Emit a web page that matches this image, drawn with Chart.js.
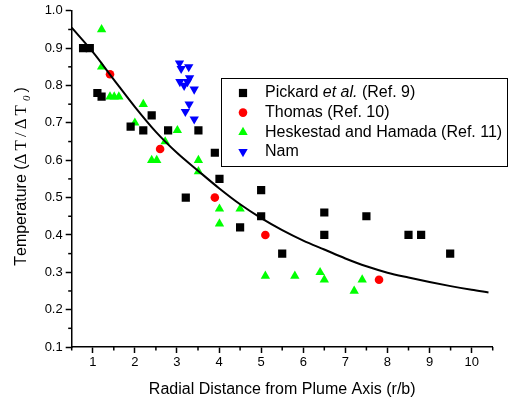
<!DOCTYPE html>
<html><head><meta charset="utf-8">
<script src="https://cdn.jsdelivr.net/npm/chart.js@4/dist/chart.umd.min.js"></script>
<style>html,body{margin:0;padding:0;background:#fff;}#wrap{width:521px;height:402px;position:relative}</style>
</head><body><div id="wrap"><canvas id="c" width="521" height="402"></canvas></div>
<script>
// ---- data ----
const pickardX = [0.77,0.93,1.11,1.21,1.90,2.20,2.40,2.79,3.51,3.90,4.01,3.21,4.50,5.00,5.00,5.50,6.50,6.50,7.50,8.50,8.80,9.49];
const pickardY = [0.90,0.90,0.78,0.77,0.69,0.68,0.72,0.68,0.68,0.62,0.55,0.50,0.42,0.52,0.45,0.35,0.46,0.40,0.45,0.40,0.40,0.35];
const thomasX = [1.41,2.60,3.90,5.10,7.80];
const thomasY = [0.83,0.63,0.50,0.40,0.28];
const heskX = [1.21,1.21,1.41,1.51,1.62,2.20,2.00,3.01,2.72,2.40,2.52,3.51,3.51,4.01,4.50,4.01,5.10,5.80,6.40,6.50,7.21,7.40];
const heskY = [0.95,0.85,0.77,0.77,0.77,0.75,0.70,0.68,0.65,0.60,0.60,0.60,0.57,0.47,0.47,0.43,0.29,0.29,0.30,0.28,0.25,0.28];
const namX = [3.06,3.10,3.28,3.30,3.07,3.17,3.25,3.41,3.29,3.20,3.41];
const namY = [0.86,0.845,0.85,0.82,0.81,0.80,0.81,0.79,0.75,0.73,0.71];
const curveX = [0.5,1.0,1.5,2.0,2.5,3.0,3.5,4.0,4.5,5.0,5.5,6.0,6.5,7.0,7.5,8.0,8.5,9.0,9.5,10.0,10.4];
const curveY = [0.955,0.890,0.816,0.743,0.676,0.620,0.572,0.525,0.482,0.445,0.413,0.385,0.361,0.337,0.316,0.299,0.286,0.274,0.263,0.253,0.246];
const seriesLabels = ['Pickard et al. (Ref. 9)','Thomas (Ref. 10)','Heskestad and Hamada (Ref. 11)','Nam'];
const xMajorTicks = [1,2,3,4,5,6,7,8,9,10];
const yMajorTicks = [0.1,0.2,0.3,0.4,0.5,0.6,0.7,0.8,0.9,1.0];
const xTitle = 'Radial Distance from Plume Axis (r/b)';
const yTitleParts = ['Temperature (', '\u0394T/\u0394T', '0', ')'];

const pts = (xs, ys) => xs.map((x, i) => ({x, y: ys[i]}));
const isMaj = (arr, v) => arr.some(t => Math.abs(t - v) < 1e-6);

const SANS = '"Liberation Sans", Arial, sans-serif';
const SERIF = '"Liberation Serif", "Times New Roman", serif';

const markers = [
  {pointStyle:'rect', radius:5.8, rotation:0, color:'#000000'},
  {pointStyle:'circle', radius:4.3, rotation:0, color:'#ff0000'},
  {pointStyle:'triangle', radius:5.4, rotation:0, color:'#00ff00'},
  {pointStyle:'triangle', radius:5.4, rotation:180, color:'#0000ff'}
];

function drawMarker(ctx, m, x, y) {
  ctx.save();
  ctx.fillStyle = m.color; ctx.strokeStyle = m.color;
  if (Chart.helpers && Chart.helpers.drawPoint) {
    Chart.helpers.drawPoint(ctx, {pointStyle:m.pointStyle, radius:m.radius, rotation:m.rotation, borderWidth:0}, x, y);
  }
  ctx.restore();
}

const extras = {
  id: 'extras',
  afterDraw(chart) {
    const ctx = chart.ctx;
    const xs = chart.scales.x, ys = chart.scales.y;
    ctx.save();
    ctx.strokeStyle = '#000'; ctx.lineWidth = 1.5;
    // minor ticks
    xs.ticks.forEach(t => {
      if (!isMaj(xMajorTicks, t.value)) {
        const px = xs.getPixelForValue(t.value);
        ctx.beginPath(); ctx.moveTo(px, xs.top); ctx.lineTo(px, xs.top + 3.5); ctx.stroke();
      }
    });
    ys.ticks.forEach(t => {
      if (!isMaj(yMajorTicks, t.value)) {
        const py = ys.getPixelForValue(t.value);
        ctx.beginPath(); ctx.moveTo(ys.right, py); ctx.lineTo(ys.right - 3.5, py); ctx.stroke();
      }
    });
    // y title with mixed fonts
    ctx.translate(22, 176.5);
    ctx.rotate(-Math.PI / 2);
    const segs = [
      {t: yTitleParts[0], f: '16px ' + SANS, dy: 0, sp: 0},
      {t: yTitleParts[1], f: '17px ' + SERIF, dy: 0, sp: 3},
      {t: yTitleParts[2], f: 'italic 11px ' + SERIF, dy: 5, sp: 0, pre: 1, post: 3},
      {t: yTitleParts[3], f: '16px ' + SANS, dy: 0, sp: 0}
    ];
    let total = 0;
    segs.forEach(s => {
      ctx.font = s.f;
      s.w = 0;
      for (const ch of s.t) s.w += ctx.measureText(ch).width + s.sp;
      s.w += (s.pre || 0) + (s.post || 0);
      total += s.w;
    });
    let cx = -total / 2;
    ctx.fillStyle = '#000'; ctx.textBaseline = 'middle'; ctx.textAlign = 'left';
    segs.forEach(s => {
      ctx.font = s.f;
      let x = cx + (s.pre || 0);
      for (const ch of s.t) { ctx.fillText(ch, x, s.dy); x += ctx.measureText(ch).width + s.sp; }
      cx += s.w;
    });
    ctx.restore();

    // legend
    ctx.save();
    const bx = 221.5, by = 78.5, bw = 286, bh = 88;
    ctx.fillStyle = '#fff'; ctx.fillRect(bx, by, bw, bh);
    ctx.strokeStyle = '#000'; ctx.lineWidth = 1; ctx.strokeRect(bx, by, bw, bh);
    const y0 = 93, dy = 19.6, mx = 243, tx = 265;
    seriesLabels.forEach((lab, i) => {
      const yy = y0 + i * dy;
      drawMarker(ctx, markers[i], mx, yy);
      ctx.fillStyle = '#000'; ctx.textBaseline = 'middle'; ctx.textAlign = 'left';
      let x = tx;
      const k = lab.indexOf('et al.');
      if (k >= 0) {
        const parts = [[lab.slice(0, k), ''], ['et al.', 'italic '], [lab.slice(k + 6), '']];
        parts.forEach(p => { ctx.font = p[1] + '16px ' + SANS; ctx.fillText(p[0], x, yy); x += ctx.measureText(p[0]).width; });
      } else {
        ctx.font = '16px ' + SANS; ctx.fillText(lab, x, yy);
      }
    });
    ctx.restore();
  }
};

const ds = (label, data, m) => ({
  label, data, showLine: false, pointStyle: m.pointStyle, pointRadius: m.radius, pointHoverRadius: m.radius,
  rotation: m.rotation, backgroundColor: m.color, borderColor: m.color, pointBorderWidth: 0, borderWidth: 0
});

new Chart(document.getElementById('c'), {
  type: 'scatter',
  data: {
    datasets: [
      {label: 'fit', data: pts(curveX, curveY), type: 'line', showLine: true, borderColor: '#000', borderWidth: 2,
       pointRadius: 0, fill: false, cubicInterpolationMode: 'monotone'},
      ds(seriesLabels[0], pts(pickardX, pickardY), markers[0]),
      ds(seriesLabels[1], pts(thomasX, thomasY), markers[1]),
      ds(seriesLabels[2], pts(heskX, heskY), markers[2]),
      ds(seriesLabels[3], pts(namX, namY), markers[3])
    ]
  },
  options: {
    responsive: false, animation: false, devicePixelRatio: 1,
    layout: {padding: {left: 0, right: 28.3, top: 10, bottom: 0}},
    plugins: {legend: {display: false}, tooltip: {enabled: false}},
    scales: {
      x: {
        type: 'linear', min: 0.5, max: 10.5,
        afterFit: s => { s.height = 55; },
        ticks: {stepSize: 0.5, autoSkip: false, maxRotation: 0, color: '#000', padding: 2,
          font: {family: SANS, size: 13},
          callback: v => isMaj(xMajorTicks, v) ? String(Math.round(v)) : ''},
        grid: {drawOnChartArea: false, drawTicks: true, tickLength: 6, tickWidth: 1.5,
          tickColor: c => (c.tick && isMaj(xMajorTicks, c.tick.value)) ? '#000' : 'rgba(0,0,0,0)'},
        border: {display: true, color: '#000', width: 1.5},
        title: {display: true, text: xTitle, color: '#000', font: {family: SANS, size: 16}, padding: {top: 0, bottom: 3}}
      },
      y: {
        type: 'linear', min: 0.1, max: 1.0,
        afterFit: s => { s.width = 71.7; },
        ticks: {stepSize: 0.05, autoSkip: false, color: '#000', padding: 3,
          font: {family: SANS, size: 13},
          callback: v => isMaj(yMajorTicks, v) ? v.toFixed(1) : ''},
        grid: {drawOnChartArea: false, drawTicks: true, tickLength: 6, tickWidth: 1.5,
          tickColor: c => (c.tick && isMaj(yMajorTicks, c.tick.value)) ? '#000' : 'rgba(0,0,0,0)'},
        border: {display: true, color: '#000', width: 1.5}
      }
    }
  },
  plugins: [extras]
});
</script></body></html>
